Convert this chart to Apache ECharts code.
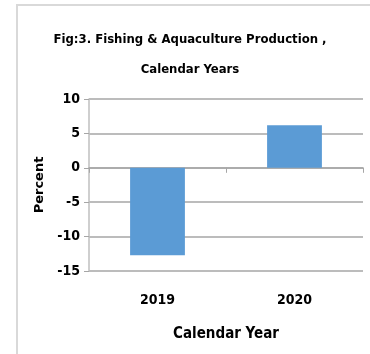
<!DOCTYPE html>
<html>
<head>
<meta charset="utf-8">
<script src="https://cdn.jsdelivr.net/npm/echarts@6/dist/echarts.min.js"></script>
<style>
    html, body { margin: 0; padding: 0; background: #fff; }
    #frame { position: absolute; left: 16px; top: 4px; width: 380px; height: 380px; border-left: 2px solid #d9d9d9; border-top: 2px solid #d9d9d9; }
    #chart { position: absolute; left: 0; top: 0; width: 370px; height: 354px; }
</style>
</head>
<body>
<div id="frame"></div>
<div id="chart"></div>
<script>
// 年份与增长率
var years = ['2019', '2020'];
var percentValues = [-12.7, 6.2];
var yTicks = {min: -15, max: 10, interval: 5};

var font = '"Liberation Sans Narrow", "DejaVu Sans Condensed", sans-serif';
var myChart = echarts.init(document.getElementById('chart'));
var option = {
    animation: false,
    title: {
        text: 'Fig:3. Fishing & Aquaculture Production ,\nCalendar Years',
        left: 185,
        top: 20,
        textAlign: 'center',
        textStyle: {
            fontFamily: font,
            fontSize: 13,
            fontWeight: 'bold',
            color: '#000',
            lineHeight: 30
        }
    },
    grid: {
        left: 89,
        right: 7,
        top: 99,
        bottom: 83
    },
    xAxis: [
        {
            type: 'category',
            data: years,
            axisLine: {onZero: true, lineStyle: {color: '#a6a6a6', width: 1.5}},
            axisTick: {show: true, length: 5, lineStyle: {color: '#a6a6a6'}},
            axisLabel: {show: false}
        },
        {
            type: 'category',
            data: years,
            position: 'bottom',
            axisLine: {show: false, onZero: false},
            axisTick: {show: false},
            axisLabel: {
                margin: 22,
                fontFamily: font,
                fontSize: 14,
                fontWeight: 'bold',
                color: '#000'
            },
            name: 'Calendar Year',
            nameLocation: 'middle',
            nameGap: 56,
            nameTextStyle: {
                fontFamily: font,
                fontSize: 15,
                fontWeight: 'bold',
                color: '#000'
            }
        }
    ],
    yAxis: {
        type: 'value',
        min: yTicks.min,
        max: yTicks.max,
        interval: yTicks.interval,
        axisLine: {show: true, lineStyle: {color: '#bfbfbf', width: 1.5}},
        axisTick: {show: true, length: 5, lineStyle: {color: '#a6a6a6'}},
        splitLine: {lineStyle: {color: '#a6a6a6', width: 1.5}},
        axisLabel: {
            margin: 9,
            fontFamily: font,
            fontSize: 14,
            fontWeight: 'bold',
            color: '#000'
        },
        name: 'Percent',
        nameLocation: 'middle',
        nameGap: 41,
        nameRotate: 90,
        nameTextStyle: {
            fontFamily: '"DejaVu Sans", sans-serif',
            fontSize: 13,
            fontWeight: 'bold',
            color: '#000'
        }
    },
    series: [
        {
            type: 'bar',
            xAxisIndex: 0,
            data: percentValues,
            barWidth: '40%',
            itemStyle: {color: '#5b9bd5'}
        }
    ]
};
myChart.setOption(option);
</script>
</body>
</html>
